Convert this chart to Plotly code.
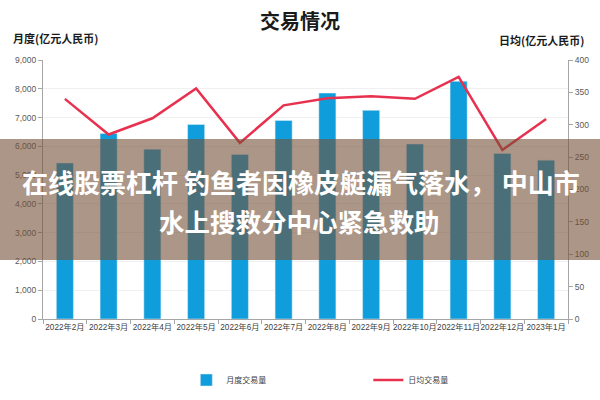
import plotly.graph_objects as go

months = ["2022年2月", "2022年3月", "2022年4月", "2022年5月", "2022年6月", "2022年7月",
          "2022年8月", "2022年9月", "2022年10月", "2022年11月", "2022年12月", "2023年1月"]
monthly_volume = [5420, 6450, 5900, 6760, 5720, 6900, 7850, 7250, 6080, 8260, 5750, 5520]
daily_avg = [340, 285, 310, 356, 272, 330, 341, 344, 340, 374, 261, 309]

FONT = "Noto Sans CJK SC, Noto Sans, sans-serif"
TICK_FONT = "Liberation Sans, Arial, Noto Sans CJK SC"
BAR_COLOR = "#0F9EDB"
LINE_COLOR = "#E8314F"

fig = go.Figure()
fig.add_trace(go.Bar(
    x=months, y=monthly_volume, name="月度交易量",
    marker_color=BAR_COLOR, yaxis="y",
))
fig.add_trace(go.Scatter(
    x=months, y=daily_avg, name="日均交易量", mode="lines",
    line=dict(color=LINE_COLOR, width=2.5), yaxis="y2",
))

fig.update_layout(
    width=600, height=400,
    margin=dict(l=43, r=32, t=60, b=81, autoexpand=False),
    paper_bgcolor="white", plot_bgcolor="white",
    font=dict(family=FONT, size=10, color="#404040"),
    bargap=0.61,
    title=dict(text="<b>交易情况</b>", x=0.5, xanchor="center", xref="container",
               y=1 - 22 / 400, yanchor="middle", yref="container",
               font=dict(size=20, color="#1a1a1a")),
    showlegend=True,
    legend=dict(
        orientation="h", x=0.273, xanchor="left",
        y=20 / 400, yanchor="middle", yref="container",
        entrywidth=137, entrywidthmode="pixels",
        font=dict(size=8, color="#404040"),
    ),
    xaxis=dict(
        showline=True, linecolor="#A6A6A6", linewidth=1,
        ticks="outside", tickson="boundaries", ticklen=4, tickcolor="#A6A6A6",
        tickfont=dict(size=8.2, color="#404040", family=TICK_FONT), tickangle=0,
        showgrid=False,
    ),
    yaxis=dict(
        range=[0, 9000], dtick=1000, tickformat=",",
        showline=True, linecolor="#A6A6A6", ticks="outside", ticklen=4,
        tickcolor="#A6A6A6", gridcolor="#F0F0F0", zeroline=False,
        tickfont=dict(size=8.5, color="#595959", family=TICK_FONT),
    ),
    yaxis2=dict(
        range=[0, 400], dtick=50, overlaying="y", side="right",
        showline=True, linecolor="#A6A6A6", ticks="outside", ticklen=4,
        tickcolor="#A6A6A6", showgrid=False, zeroline=False,
        tickfont=dict(size=8.5, color="#595959", family=TICK_FONT),
    ),
)

fig.add_annotation(text="<b>月度(亿元人民币)</b>", xref="paper", yref="paper",
                   x=-32 / 525, y=(319 - 38) / 259, xanchor="left", yanchor="middle",
                   showarrow=False, font=dict(size=11, color="#1a1a1a"))
fig.add_annotation(text="<b>日均(亿元人民币)</b>", xref="paper", yref="paper",
                   x=(586 - 43) / 525, y=(319 - 40) / 259, xanchor="right", yanchor="middle",
                   showarrow=False, font=dict(size=11, color="#1a1a1a"))

# semi-transparent banner over the chart
fig.add_shape(type="rect", xref="paper", yref="paper",
              x0=-43 / 525, x1=557 / 525, y0=(319 - 260) / 259, y1=(319 - 139) / 259,
              fillcolor="rgba(115,80,55,0.6)", line_width=0, layer="above")
fig.add_annotation(text="<b>在线股票杠杆 钓鱼者因橡皮艇漏气落水， 中山市</b>",
                   xref="paper", yref="paper", x=(301 - 43) / 525, y=(319 - 181) / 259,
                   xanchor="center", yanchor="middle", showarrow=False,
                   font=dict(size=26, color="white"))
fig.add_annotation(text="<b>水上搜救分中心紧急救助</b>",
                   xref="paper", yref="paper", x=(299 - 43) / 525, y=(319 - 220) / 259,
                   xanchor="center", yanchor="middle", showarrow=False,
                   font=dict(size=25.5, color="white"))

fig.write_html("out.html", config={"displayModeBar": False},
               post_script="document.body.style.margin='0';")
